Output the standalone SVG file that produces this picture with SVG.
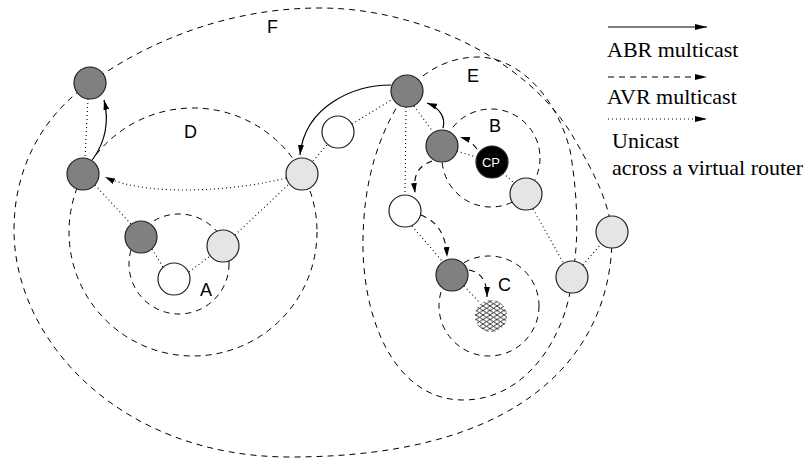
<svg xmlns="http://www.w3.org/2000/svg" width="811" height="458" viewBox="0 0 811 458">
  <style>
    .region { fill: none; stroke: #000; stroke-width: 1; stroke-dasharray: 6 5; }
    .abr { fill: none; stroke: #000; stroke-width: 1.2; }
    .avr { fill: none; stroke: #000; stroke-width: 1.1; stroke-dasharray: 6 5; }
    .uni { fill: none; stroke: #000; stroke-width: 1.1; stroke-dasharray: 1 3; }
    .node { stroke: #222; stroke-width: 1.2; }
    .dark { fill: #808080; }
    .light { fill: #e5e5e5; }
    .white { fill: #ffffff; }
    .cp { fill: #000; }
    .lbl { font-family: "Liberation Sans", Arial, sans-serif; font-size: 18px; fill: #000; }
    .cptext { font-family: "Liberation Sans", Arial, sans-serif; font-size: 13px; fill: #fff; text-anchor: middle; }
    .legend { font-family: "Liberation Serif", "Times New Roman", serif; font-size: 22px; fill: #000; }
  </style>
  <defs>
    <marker id="ah" viewBox="0 0 10 6" refX="10" refY="3" markerWidth="10" markerHeight="6" markerUnits="userSpaceOnUse" orient="auto">
      <path d="M0,0 L10,3 L0,6 z" fill="#000"/>
    </marker>
    <marker id="ahl" viewBox="0 0 12 6" refX="12" refY="3" markerWidth="12" markerHeight="6" markerUnits="userSpaceOnUse" orient="auto">
      <path d="M0,0 L12,3 L0,6 z" fill="#000"/>
    </marker>
    <pattern id="hatch" patternUnits="userSpaceOnUse" width="7" height="4.5">
      <rect width="7" height="4.5" fill="#fff"/>
      <path d="M0,0 L7,4.5 M0,4.5 L7,0" stroke="#000" stroke-width="0.8"/>
    </pattern>
  </defs>

  <!-- domain boundaries -->
  <g id="regions">
    <path id="region-F" class="region" d="M90,83 C150,40 230,8 320,8 C420,8 530,60 575,140 C595,175 608,200 612,232 C614,340 540,457 290,457 C120,457 14,340 14,230 C14,160 50,110 90,83"/>
    <path id="region-E" class="region" d="M407,91 C425,70 450,57 478,57 C515,57 555,92 570,150 C577,190 580,240 572,277 C568,330 530,400 463,400 C400,400 365,330 363,250 C362,180 380,130 407,91"/>
    <circle id="region-D" class="region" cx="193" cy="232" r="124"/>
    <circle id="region-A" class="region" cx="179" cy="264" r="50"/>
    <circle id="region-B" class="region" cx="491" cy="158" r="49"/>
    <circle id="region-C" class="region" cx="489" cy="306" r="50"/>
  </g>

  <!-- connectors -->
  <g id="connectors">
    <!-- ABR multicast -->
    <path class="abr" marker-end="url(#ah)" d="M93,159 Q112,132 104,100"/>
    <path class="abr" marker-end="url(#ah)" d="M391,85 C355,85 305,105 300,155"/>
    <path class="abr" marker-end="url(#ah)" d="M443,128 C446,118 440,108 427,103"/>
    <!-- AVR multicast -->
    <path class="avr" marker-end="url(#ah)" d="M477,149 Q470,140 460,137"/>
    <path class="avr" marker-end="url(#ah)" d="M432,161 C418,166 413,175 415,193"/>
    <path class="avr" marker-end="url(#ah)" d="M421,215 C438,222 446,235 447,257"/>
    <path class="avr" marker-end="url(#ah)" d="M469,270 C480,272 487,280 487,297"/>
    <!-- unicast -->
    <path class="uni" marker-end="url(#ah)" d="M286,178 C240,190 150,198 105,177"/>
    <path class="uni" d="M88,99 L85,158"/>
    <path class="uni" d="M95,185 L131,224"/>
    <path class="uni" d="M152,249 L163,267"/>
    <path class="uni" d="M189,272 L210,256"/>
    <path class="uni" d="M235,235 L289,184"/>
    <path class="uni" d="M313,161 L327,145"/>
    <path class="uni" d="M352,124 L393,99"/>
    <path class="uni" d="M406,107 L405,195"/>
    <path class="uni" d="M414,106 L433,132"/>
    <path class="uni" d="M457,151 L476,157"/>
    <path class="uni" d="M503,173 L514,183"/>
    <path class="uni" d="M533,209 L563,262"/>
    <path class="uni" d="M583,265 L601,244"/>
    <path class="uni" d="M412,226 L443,262"/>
    <path class="uni" d="M464,286 L480,303"/>
  </g>

  <!-- routers -->
  <g id="n-f-top"><circle class="node dark" cx="90" cy="83" r="16"/></g>
  <g id="n-d-left"><circle class="node dark" cx="83" cy="174" r="16"/></g>
  <g id="n-d-right"><circle class="node light" cx="302" cy="174" r="16"/></g>
  <g id="n-link"><circle class="node white" cx="338" cy="132" r="16"/></g>
  <g id="n-e-top"><circle class="node dark" cx="407" cy="91" r="16"/></g>
  <g id="n-b-left"><circle class="node dark" cx="442" cy="146" r="16"/></g>
  <g id="n-cp"><circle class="node cp" cx="492" cy="162" r="16"/><text class="cptext" x="491" y="167">CP</text></g>
  <g id="n-b-right"><circle class="node light" cx="526" cy="194" r="16"/></g>
  <g id="n-e-mid"><circle class="node white" cx="405" cy="211" r="16"/></g>
  <g id="n-c-left"><circle class="node dark" cx="452" cy="275" r="16"/></g>
  <g id="n-c-member"><circle cx="491" cy="316" r="16" fill="url(#hatch)"/></g>
  <g id="n-e-right"><circle class="node light" cx="572" cy="277" r="16"/></g>
  <g id="n-f-right"><circle class="node light" cx="612" cy="232" r="16"/></g>
  <g id="n-a-left"><circle class="node dark" cx="141" cy="237" r="16"/></g>
  <g id="n-a-right"><circle class="node light" cx="223" cy="246" r="16"/></g>
  <g id="n-a-bottom"><circle class="node white" cx="174" cy="279" r="16"/></g>

  <!-- domain labels -->
  <g id="labels">
    <text class="lbl" x="267" y="33">F</text>
    <text class="lbl" x="184" y="138">D</text>
    <text class="lbl" x="467" y="82">E</text>
    <text class="lbl" x="489" y="132">B</text>
    <text class="lbl" x="498" y="291">C</text>
    <text class="lbl" x="200" y="296">A</text>
  </g>

  <!-- legend -->
  <g id="legend">
    <path class="abr" marker-end="url(#ahl)" d="M608,27 L707,27"/>
    <text class="legend" x="607" y="57">ABR multicast</text>
    <path class="avr" marker-end="url(#ahl)" d="M608,77 L707,77"/>
    <text class="legend" x="607" y="104">AVR multicast</text>
    <path class="uni" marker-end="url(#ahl)" d="M608,119 L707,119"/>
    <text class="legend" x="612" y="148">Unicast</text>
    <text class="legend" x="612" y="175">across a virtual router</text>
  </g>
</svg>
